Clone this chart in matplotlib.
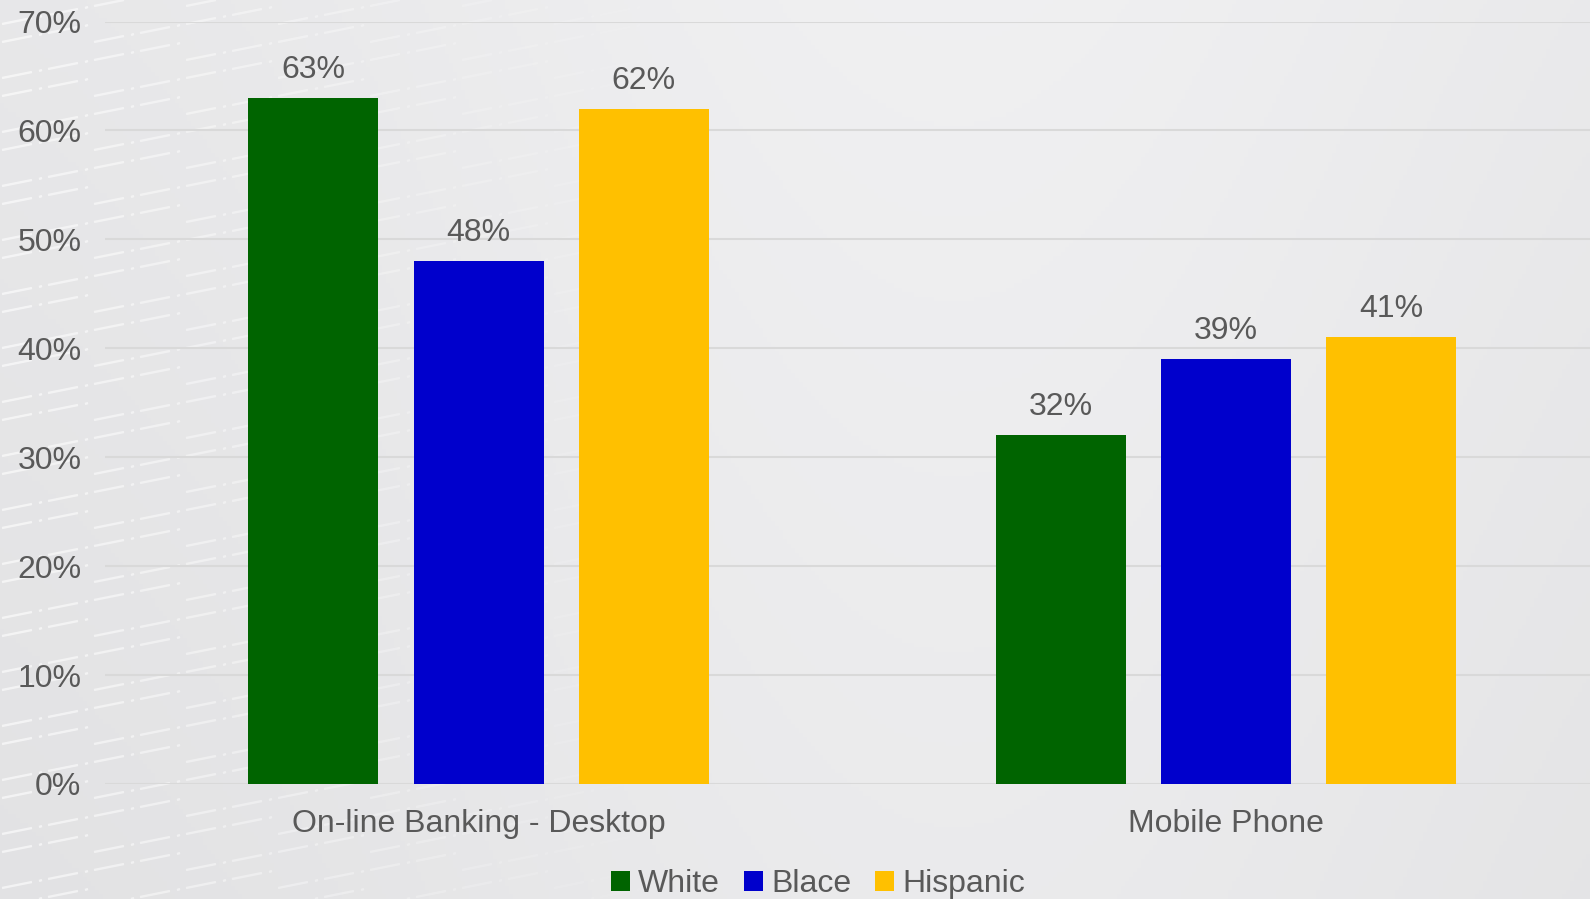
import numpy as np
import matplotlib.pyplot as plt
from matplotlib.collections import LineCollection

plt.rcParams['font.family'] = ['Liberation Sans', 'DejaVu Sans']

# Datos
categories = ['On-line Banking - Desktop', 'Mobile Phone']
series_names = ['White', 'Blace', 'Hispanic']
values = {
    'White': [63, 32],
    'Blace': [48, 39],
    'Hispanic': [62, 41],
}
colors = ['#006400', '#0000CC', '#FFC000']
yticks = [0, 10, 20, 30, 40, 50, 60, 70]

TEXT = '#595959'
GRID = '#d9d9d9'
FS = 23

fig = plt.figure(figsize=(15.9, 8.99), dpi=100)
fig.patch.set_facecolor('#e8e8e8')

# fondo: degradado gris claro con textura de trazos a la izquierda
bg = fig.add_axes([0, 0, 1, 1], zorder=-10)
bg.set_xlim(0, 1590)
bg.set_ylim(899, 0)
bg.axis('off')
gx = np.linspace(0, 1, 400)
gy = np.linspace(0, 1, 200)
GX, GY = np.meshgrid(gx, gy)
shade = 0.905 + 0.035 * np.exp(-((GX - 0.6) ** 2) / 0.15) - 0.02 * GY
bg.imshow(np.dstack([shade, shade, shade + 0.006]), extent=[0, 1590, 899, 0],
          aspect='auto', zorder=0)

segs = []
alphas = []
for col in range(16):
    x0 = 2 + col * 46
    fade = max(0.0, 1 - col / 15.0)
    for row in range(52):
        y0 = 6 + row * 18 + (col % 2) * 9
        if (row + col) % 3 == 0:
            continue
        segs.append([(x0, y0), (x0 + 30, y0 - 6)])
        alphas.append(0.6 * fade)
        segs.append([(x0 + 37, y0 - 7), (x0 + 40, y0 - 8)])
        alphas.append(0.6 * fade)
lc = LineCollection(segs, colors=[(1, 1, 1, a) for a in alphas], linewidths=1.7)
bg.add_collection(lc)

# gráfico
ax = fig.add_axes([0.066, 0.128, 0.934, 0.848])
ax.set_facecolor('none')

x = np.arange(len(categories))
width = 0.174
step = 0.221
handles = []
for i, name in enumerate(series_names):
    pos = x + (i - 1) * step
    bars = ax.bar(pos, values[name], width, color=colors[i], label=name, zorder=3)
    handles.append(bars)
    for b, v in zip(bars, values[name]):
        ax.text(b.get_x() + b.get_width() / 2, v + 1.2, f'{v}%',
                ha='center', va='bottom', fontsize=FS, color=TEXT)

ax.set_xlim(-0.5, 1.487)
ax.set_ylim(0, 70)
ax.set_yticks(yticks)
ax.set_yticklabels([f'{t}%' for t in yticks], fontsize=FS, color=TEXT)
ax.set_xticks(x)
ax.set_xticklabels(categories, fontsize=FS, color=TEXT)
ax.tick_params(axis='both', length=0)
ax.tick_params(axis='y', pad=17)
ax.tick_params(axis='x', pad=18)
ax.grid(axis='y', color=GRID, linewidth=1.5, zorder=0)
for s in ax.spines.values():
    s.set_visible(False)

fig.legend(handles=handles, labels=series_names, loc='center',
           bbox_to_anchor=(818 / 1590, 1 - 884 / 899), ncol=3,
           frameon=False, fontsize=FS, handlelength=0.6, handleheight=0.6,
           handletextpad=0.25, columnspacing=0.75, labelcolor=TEXT,
           borderpad=0, borderaxespad=0)

fig.savefig('out.png', dpi=100, facecolor=fig.get_facecolor())
